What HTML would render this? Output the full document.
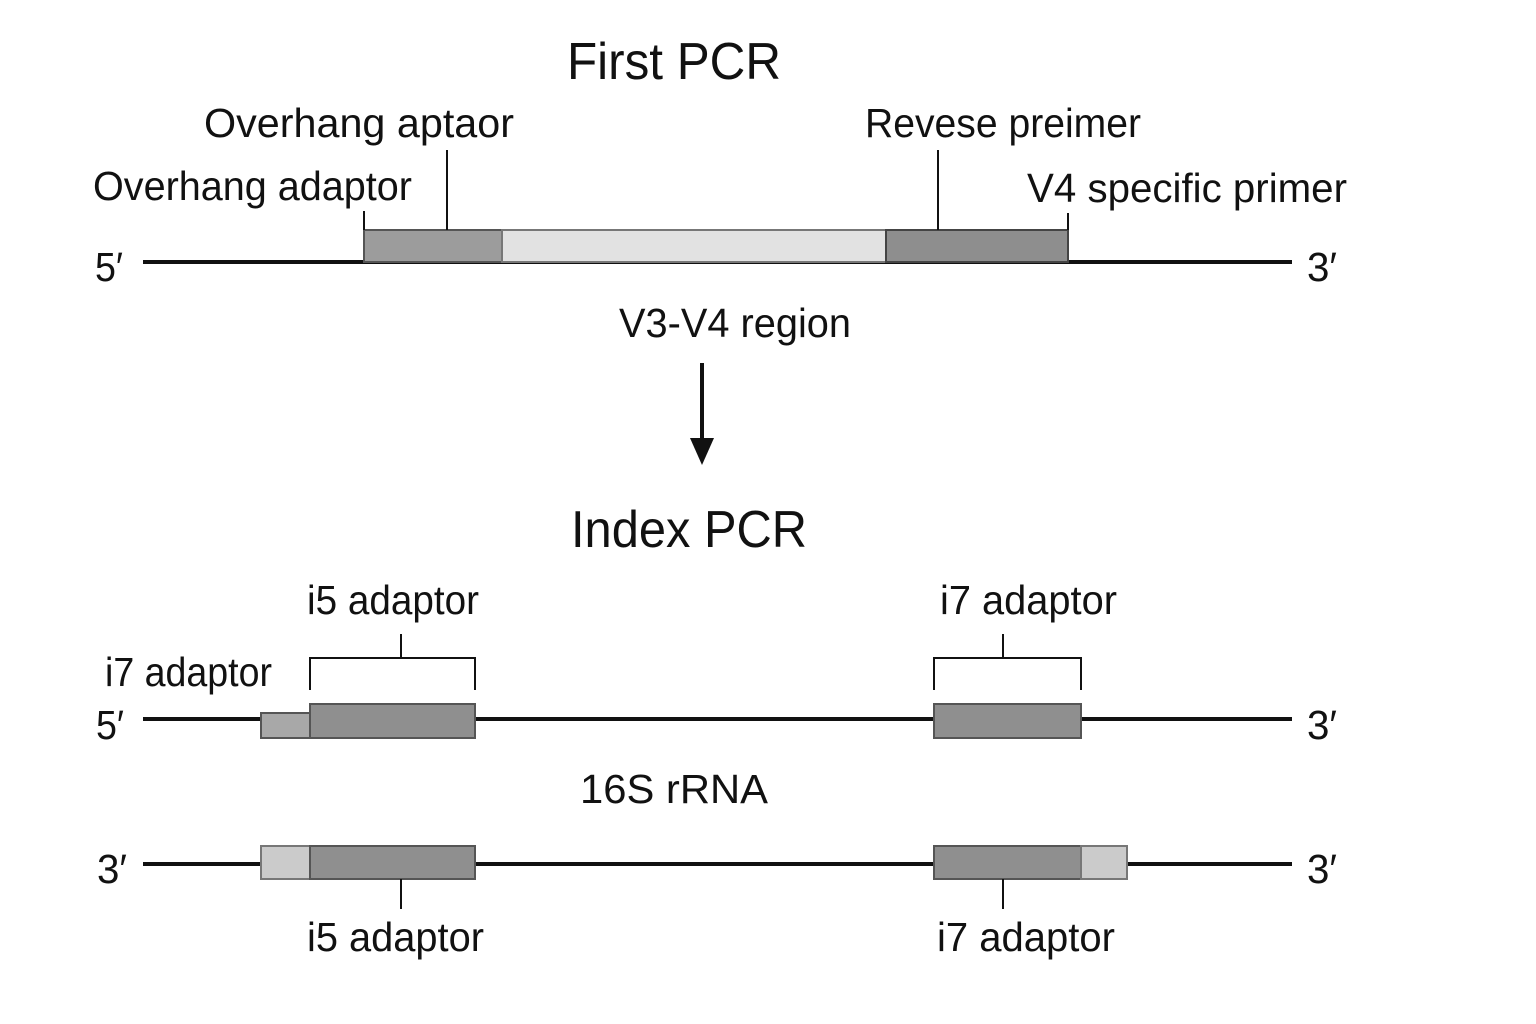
<!DOCTYPE html>
<html><head><meta charset="utf-8"><style>
html,body{margin:0;padding:0;background:#fff;}
svg{display:block;}
text{font-family:"Liberation Sans",Arial,sans-serif;fill:#111;}
</style></head><body>
<svg width="1536" height="1024" viewBox="0 0 1536 1024" xmlns="http://www.w3.org/2000/svg">
<rect width="1536" height="1024" fill="#fff"/>
<!-- First PCR -->
<text x="567" y="79" font-size="52" textLength="214" lengthAdjust="spacingAndGlyphs">First PCR</text>
<text x="204" y="137" font-size="41" textLength="310" lengthAdjust="spacingAndGlyphs">Overhang aptaor</text>
<text x="865" y="137" font-size="41" textLength="276" lengthAdjust="spacingAndGlyphs">Revese preimer</text>
<text x="93" y="200" font-size="41" textLength="319" lengthAdjust="spacingAndGlyphs">Overhang adaptor</text>
<text x="1027" y="202" font-size="41" textLength="320" lengthAdjust="spacingAndGlyphs">V4 specific primer</text>
<text x="95" y="281" font-size="41" textLength="28" lengthAdjust="spacingAndGlyphs">5′</text>
<text x="1307" y="281" font-size="41" textLength="30" lengthAdjust="spacingAndGlyphs">3′</text>
<line x1="143" y1="262" x2="1292" y2="262" stroke="#111" stroke-width="4"/>
<rect x="364" y="230" width="138" height="32" fill="#9c9c9c" stroke="#555" stroke-width="2"/>
<rect x="502" y="230" width="384" height="32" fill="#e2e2e2" stroke="#777" stroke-width="2"/>
<rect x="886" y="230" width="182" height="32" fill="#8e8e8e" stroke="#444" stroke-width="2"/>
<g stroke="#111" stroke-width="2">
<line x1="364" y1="211" x2="364" y2="230"/>
<line x1="447" y1="150" x2="447" y2="230"/>
<line x1="938" y1="150" x2="938" y2="230"/>
<line x1="1068" y1="213" x2="1068" y2="230"/>
</g>
<text x="619" y="337" font-size="41" textLength="232" lengthAdjust="spacingAndGlyphs">V3-V4 region</text>
<line x1="702" y1="363" x2="702" y2="442" stroke="#111" stroke-width="4"/>
<polygon points="690,438 714,438 702,465" fill="#111"/>
<!-- Index PCR -->
<text x="571" y="547" font-size="52" textLength="236" lengthAdjust="spacingAndGlyphs">Index PCR</text>
<text x="307" y="614" font-size="41" textLength="172" lengthAdjust="spacingAndGlyphs">i5 adaptor</text>
<text x="940" y="614" font-size="41" textLength="177" lengthAdjust="spacingAndGlyphs">i7 adaptor</text>
<text x="105" y="686" font-size="41" textLength="167" lengthAdjust="spacingAndGlyphs">i7 adaptor</text>
<g stroke="#111" stroke-width="2" fill="none">
<polyline points="310,690 310,658 475,658 475,690"/>
<line x1="401" y1="634" x2="401" y2="658"/>
<polyline points="934,690 934,658 1081,658 1081,690"/>
<line x1="1003" y1="634" x2="1003" y2="658"/>
</g>
<line x1="143" y1="719" x2="1292" y2="719" stroke="#111" stroke-width="4"/>
<rect x="261" y="713" width="49" height="25" fill="#a8a8a8" stroke="#555" stroke-width="2"/>
<rect x="310" y="704" width="165" height="34" fill="#8f8f8f" stroke="#555" stroke-width="2"/>
<rect x="934" y="704" width="147" height="34" fill="#8f8f8f" stroke="#555" stroke-width="2"/>
<text x="96" y="739" font-size="41" textLength="28" lengthAdjust="spacingAndGlyphs">5′</text>
<text x="1307" y="739" font-size="41" textLength="30" lengthAdjust="spacingAndGlyphs">3′</text>
<text x="580" y="803" font-size="41" textLength="188" lengthAdjust="spacingAndGlyphs">16S rRNA</text>
<line x1="143" y1="864" x2="1292" y2="864" stroke="#111" stroke-width="4"/>
<rect x="261" y="846" width="49" height="33" fill="#cbcbcb" stroke="#777" stroke-width="2"/>
<rect x="310" y="846" width="165" height="33" fill="#8f8f8f" stroke="#555" stroke-width="2"/>
<rect x="934" y="846" width="147" height="33" fill="#8f8f8f" stroke="#555" stroke-width="2"/>
<rect x="1081" y="846" width="46" height="33" fill="#cbcbcb" stroke="#777" stroke-width="2"/>
<g stroke="#111" stroke-width="2">
<line x1="401" y1="879" x2="401" y2="909"/>
<line x1="1003" y1="879" x2="1003" y2="909"/>
</g>
<text x="97" y="883" font-size="41" textLength="30" lengthAdjust="spacingAndGlyphs">3′</text>
<text x="1307" y="883" font-size="41" textLength="30" lengthAdjust="spacingAndGlyphs">3′</text>
<text x="307" y="951" font-size="41" textLength="177" lengthAdjust="spacingAndGlyphs">i5 adaptor</text>
<text x="937" y="951" font-size="41" textLength="178" lengthAdjust="spacingAndGlyphs">i7 adaptor</text>
</svg>
</body></html>
